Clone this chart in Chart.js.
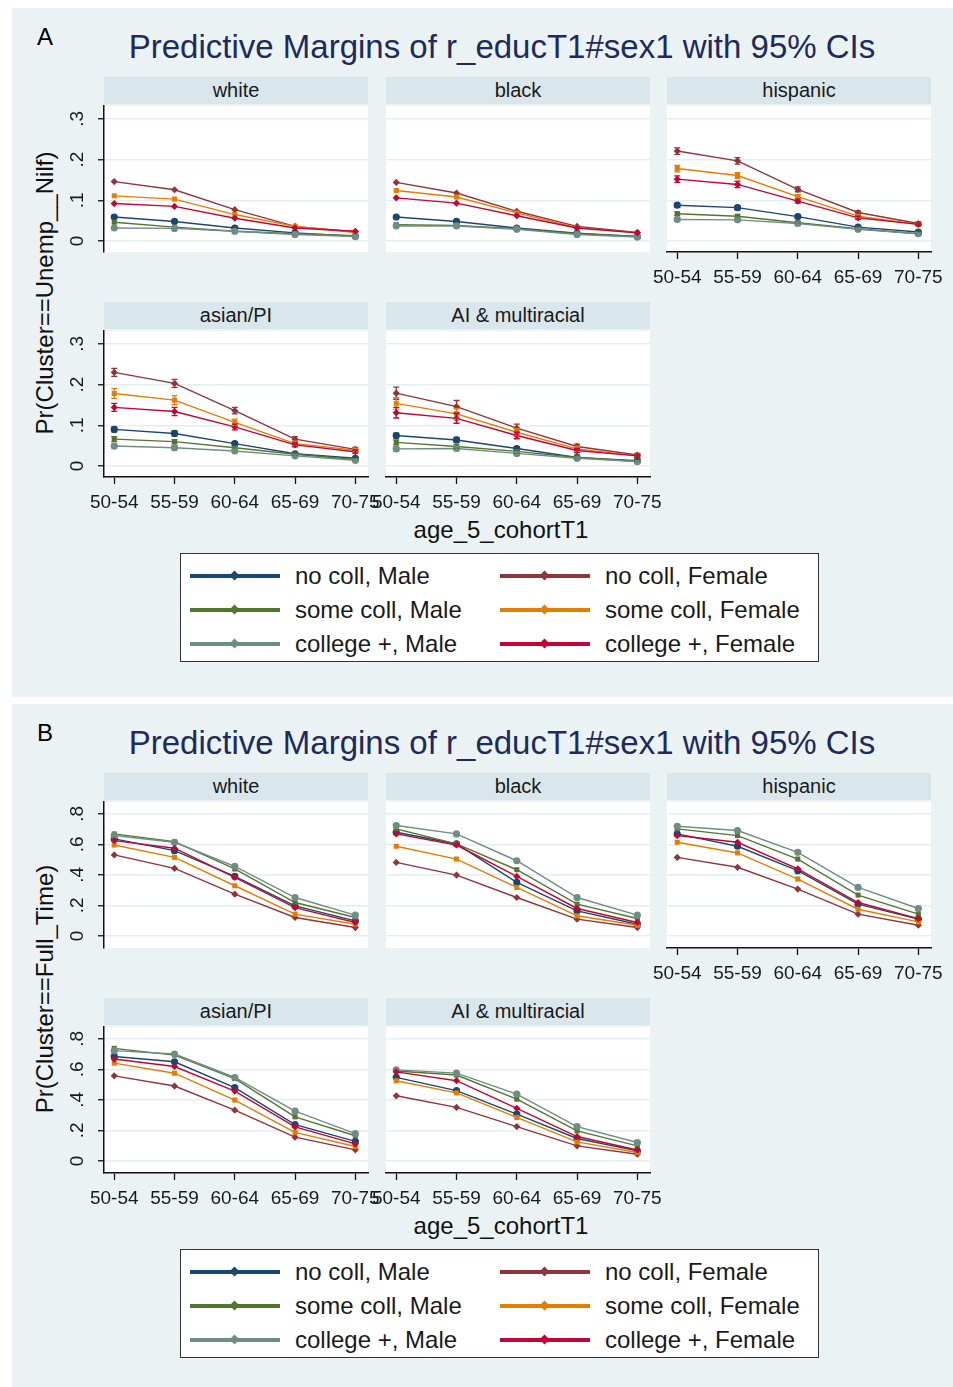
<!DOCTYPE html>
<html>
<head>
<meta charset="utf-8">
<script src="https://cdn.jsdelivr.net/npm/chart.js@4.4.1/dist/chart.umd.min.js"></script>
<style>
body { margin: 0; background: #fff; font-family: "Liberation Sans", Arial, sans-serif; }
#page { position: relative; width: 953px; height: 1387px; overflow: hidden; background: #fff; }
.bg { position: absolute; left: 12px; width: 941px; background: #eaf2f3; }
.strip { position: absolute; background: #d9e6eb; height: 27px; line-height: 27px; text-align: center; font-size: 20px; color: #1a1a1a; }
.plot { position: absolute; background: #fff; }
.txt { position: absolute; transform: translate(-50%, -50%); white-space: nowrap; color: #111; }
.legend { position: absolute; left: 180px; width: 637px; height: 107px; background: #fff; border: 1.5px solid #333; }
.li { position: absolute; height: 34px; }
.li .ln { position: absolute; left: 0; top: 15px; width: 90px; height: 4px; }
.li .mk { position: absolute; left: 41px; top: 13px; width: 7px; height: 7px; transform: rotate(45deg); }
.li .lt { position: absolute; left: 105px; top: 0; line-height: 34px; font-size: 24px; color: #1a1a1a; white-space: nowrap; }
canvas { position: absolute; }
</style>
</head>
<body>
<div id="page"></div>
<script>
const cohorts = ['50-54', '55-59', '60-64', '65-69', '70-75'];
const groups = ['no coll, Male', 'some coll, Male', 'college +, Male', 'no coll, Female', 'some coll, Female', 'college +, Female'];
const races = ['white', 'black', 'hispanic', 'asian/PI', 'AI & multiracial'];
const colors = ['#1a476f', '#55752f', '#6e8e84', '#90353b', '#e37e00', '#c10534'];

// A: Pr(Cluster==Unemp__Nilf), rows follow groups
const unempWhite = [
  [0.059, 0.048, 0.032, 0.020, 0.012],
  [0.046, 0.034, 0.024, 0.018, 0.013],
  [0.032, 0.031, 0.024, 0.016, 0.011],
  [0.146, 0.126, 0.077, 0.036, 0.022],
  [0.111, 0.103, 0.065, 0.036, 0.021],
  [0.092, 0.085, 0.056, 0.032, 0.024]
];
const unempBlack = [
  [0.059, 0.048, 0.032, 0.019, 0.011],
  [0.040, 0.038, 0.030, 0.018, 0.011],
  [0.037, 0.037, 0.029, 0.016, 0.010],
  [0.144, 0.118, 0.073, 0.036, 0.021],
  [0.124, 0.108, 0.069, 0.033, 0.020],
  [0.106, 0.093, 0.062, 0.032, 0.020]
];
const unempHisp = [
  [0.088, 0.082, 0.060, 0.034, 0.022],
  [0.067, 0.061, 0.045, 0.030, 0.018],
  [0.053, 0.052, 0.043, 0.029, 0.018],
  [0.221, 0.197, 0.127, 0.070, 0.043],
  [0.178, 0.161, 0.109, 0.061, 0.041],
  [0.152, 0.139, 0.098, 0.057, 0.041]
];
const unempAsian = [
  [0.090, 0.080, 0.055, 0.030, 0.019],
  [0.066, 0.060, 0.045, 0.029, 0.016],
  [0.049, 0.045, 0.037, 0.025, 0.014],
  [0.230, 0.203, 0.136, 0.066, 0.041],
  [0.178, 0.162, 0.107, 0.055, 0.039],
  [0.144, 0.134, 0.096, 0.052, 0.035]
];
const unempAI = [
  [0.075, 0.064, 0.043, 0.021, 0.013],
  [0.058, 0.048, 0.036, 0.021, 0.011],
  [0.042, 0.043, 0.031, 0.019, 0.011],
  [0.179, 0.146, 0.093, 0.048, 0.027],
  [0.154, 0.128, 0.083, 0.042, 0.025],
  [0.131, 0.117, 0.075, 0.038, 0.025]
];
// CI half widths (only where visible)
const ciUnempHisp = [
  [0.005, 0.005, 0.004, 0.003, 0.003],
  [0.004, 0.004, 0.003, 0.003, 0.002],
  [0.004, 0.004, 0.003, 0.002, 0.002],
  [0.008, 0.008, 0.006, 0.004, 0.004],
  [0.008, 0.007, 0.005, 0.004, 0.003],
  [0.008, 0.008, 0.005, 0.004, 0.003]
];
const ciUnempAsian = [
  [0.006, 0.006, 0.004, 0.003, 0.003],
  [0.006, 0.005, 0.004, 0.003, 0.002],
  [0.005, 0.005, 0.004, 0.003, 0.002],
  [0.010, 0.010, 0.008, 0.006, 0.005],
  [0.012, 0.011, 0.008, 0.006, 0.005],
  [0.010, 0.010, 0.007, 0.005, 0.004]
];
const ciUnempAI = [
  [0.006, 0.006, 0.004, 0.003, 0.003],
  [0.006, 0.005, 0.004, 0.003, 0.002],
  [0.005, 0.005, 0.004, 0.003, 0.002],
  [0.015, 0.015, 0.010, 0.006, 0.004],
  [0.014, 0.013, 0.009, 0.006, 0.004],
  [0.013, 0.012, 0.008, 0.005, 0.004]
];

// B: Pr(Cluster==Full_Time)
const fullWhite = [
  [0.636, 0.559, 0.390, 0.197, 0.099],
  [0.669, 0.618, 0.439, 0.219, 0.121],
  [0.658, 0.614, 0.456, 0.252, 0.136],
  [0.531, 0.443, 0.274, 0.121, 0.055],
  [0.596, 0.515, 0.329, 0.143, 0.077],
  [0.625, 0.575, 0.384, 0.186, 0.088]
];
const fullBlack = [
  [0.680, 0.603, 0.351, 0.164, 0.077],
  [0.702, 0.603, 0.434, 0.208, 0.114],
  [0.724, 0.669, 0.493, 0.252, 0.136],
  [0.482, 0.399, 0.252, 0.110, 0.055],
  [0.588, 0.504, 0.318, 0.132, 0.070],
  [0.669, 0.596, 0.390, 0.180, 0.088]
];
const fullHisp = [
  [0.669, 0.588, 0.428, 0.208, 0.110],
  [0.702, 0.658, 0.504, 0.268, 0.143],
  [0.719, 0.691, 0.548, 0.318, 0.180],
  [0.515, 0.450, 0.307, 0.143, 0.070],
  [0.614, 0.544, 0.373, 0.175, 0.092],
  [0.658, 0.614, 0.439, 0.219, 0.114]
];
const fullAsian = [
  [0.685, 0.650, 0.481, 0.238, 0.128],
  [0.738, 0.694, 0.540, 0.289, 0.165],
  [0.723, 0.701, 0.547, 0.326, 0.179],
  [0.558, 0.491, 0.333, 0.156, 0.073],
  [0.641, 0.575, 0.399, 0.187, 0.095],
  [0.668, 0.619, 0.458, 0.223, 0.112]
];
const fullAI = [
  [0.548, 0.461, 0.307, 0.147, 0.066],
  [0.590, 0.563, 0.405, 0.197, 0.099],
  [0.597, 0.576, 0.438, 0.225, 0.121],
  [0.427, 0.351, 0.225, 0.099, 0.044],
  [0.526, 0.446, 0.285, 0.125, 0.055],
  [0.584, 0.526, 0.345, 0.160, 0.072]
];

const yTicksA = [0, 0.1, 0.2, 0.3];
const yLabelsA = ['0', '.1', '.2', '.3'];
const yTicksB = [0, 0.2, 0.4, 0.6, 0.8];
const yLabelsB = ['0', '.2', '.4', '.6', '.8'];

const title = 'Predictive Margins of r_educT1#sex1 with 95% CIs';

const sections = [
  { tag: 'A', dy: 0, bgH: 689, yTitle: 'Pr(Cluster==Unemp__Nilf)',
    data: [unempWhite, unempBlack, unempHisp, unempAsian, unempAI],
    ci: [null, null, ciUnempHisp, ciUnempAsian, ciUnempAI],
    yMin: -0.027, yMax: 0.3317, yTicks: yTicksA, yLabels: yLabelsA },
  { tag: 'B', dy: 696, bgH: 684, yTitle: 'Pr(Cluster==Full_Time)',
    data: [fullWhite, fullBlack, fullHisp, fullAsian, fullAI],
    ci: [null, null, null, null, null],
    yMin: -0.079, yMax: 0.878, yTicks: yTicksB, yLabels: yLabelsB }
];

// draw order: college +, Female on top
const drawOrder = [5, 3, 1, 4, 2, 0];
const pointStyles = ['circle', 'rect', 'circle', 'rectRot', 'rect', 'rectRot'];

const colLeft = [104, 386, 667];
const plotW = 264;
const plotH = 146;
const stripTop = [77, 302];
const plotTop = [106, 331];
const cells = [
  { col: 0, row: 0, yAxis: true, xAxis: false },
  { col: 1, row: 0, yAxis: false, xAxis: false },
  { col: 2, row: 0, yAxis: false, xAxis: true },
  { col: 0, row: 1, yAxis: true, xAxis: true },
  { col: 1, row: 1, yAxis: false, xAxis: true }
];

const page = document.getElementById('page');
function el(cls, css, text) {
  const d = document.createElement('div');
  d.className = cls;
  Object.assign(d.style, css);
  if (text !== undefined) d.textContent = text;
  page.appendChild(d);
  return d;
}

function ciPlugin(ci) {
  return {
    id: 'cibars',
    afterDatasetsDraw(chart) {
      if (!ci) return;
      const ctx = chart.ctx;
      const xs = chart.scales.x, ys = chart.scales.y;
      chart.data.datasets.forEach((ds, i) => {
        const g = ds.groupIndex;
        ctx.save();
        ctx.strokeStyle = ds.borderColor;
        ctx.lineWidth = 1.3;
        ds.data.forEach((pt, j) => {
          const c = ci[g][j];
          const x = xs.getPixelForValue(pt.x);
          const y1 = ys.getPixelForValue(pt.y - c);
          const y2 = ys.getPixelForValue(pt.y + c);
          ctx.beginPath();
          ctx.moveTo(x, y1); ctx.lineTo(x, y2);
          ctx.moveTo(x - 3, y1); ctx.lineTo(x + 3, y1);
          ctx.moveTo(x - 3, y2); ctx.lineTo(x + 3, y2);
          ctx.stroke();
        });
        ctx.restore();
      });
    }
  };
}

function makeChart(sec, k) {
  const cell = cells[k];
  const padT = 30, padR = 30;
  const yW = cell.yAxis ? 40 : 0;
  const padL = cell.yAxis ? 0 : 30;
  const xH = cell.xAxis ? 46 : 0;
  const padB = cell.xAxis ? 0 : 30;
  const left = colLeft[cell.col] - yW - padL;
  const top = plotTop[cell.row] + sec.dy - padT;
  const w = padL + yW + plotW + padR;
  const h = padT + plotH + xH + padB;
  const cv = document.createElement('canvas');
  cv.width = w; cv.height = h;
  cv.style.left = left + 'px'; cv.style.top = top + 'px';
  cv.style.width = w + 'px'; cv.style.height = h + 'px';
  page.appendChild(cv);

  const series = sec.data[k];
  const datasets = series.map((vals, g) => ({
    label: groups[g],
    groupIndex: g,
    data: vals.map((v, j) => ({ x: j, y: v })),
    borderColor: colors[g],
    backgroundColor: colors[g],
    pointBackgroundColor: colors[g],
    pointBorderColor: colors[g],
    pointBorderWidth: 0,
    pointRadius: 3.6,
    pointStyle: pointStyles[g],
    borderWidth: 1.4,
    tension: 0,
    order: drawOrder[g],
    clip: false
  }));

  new Chart(cv, {
    type: 'line',
    data: { datasets },
    plugins: [ciPlugin(sec.ci[k])],
    options: {
      responsive: false,
      animation: false,
      events: [],
      layout: { padding: { left: padL, right: padR, top: padT, bottom: padB } },
      plugins: { legend: { display: false }, tooltip: { enabled: false } },
      scales: {
        x: {
          type: 'linear', min: -0.17, max: 4.21, display: cell.xAxis,
          afterBuildTicks: s => { s.ticks = cohorts.map((c, i) => ({ value: i })); },
          afterFit: s => { s.height = xH; },
          ticks: { autoSkip: false, maxRotation: 0, minRotation: 0, padding: 7,
                   color: '#1a1a1a', font: { family: 'Liberation Sans', size: 19 },
                   callback: (v, i) => cohorts[i] },
          grid: { drawOnChartArea: false, tickLength: 7, tickColor: '#111', tickWidth: 1.3 },
          border: { color: '#111', width: 1.5 }
        },
        y: {
          min: sec.yMin, max: sec.yMax,
          afterBuildTicks: s => { s.ticks = sec.yTicks.map(v => ({ value: v })); },
          afterFit: s => { s.width = yW; },
          ticks: { display: cell.yAxis, minRotation: 90, maxRotation: 90, crossAlign: 'center',
                   padding: 12, color: '#1a1a1a', font: { family: 'Liberation Sans', size: 19 },
                   callback: (v, i) => sec.yLabels[i] },
          grid: { color: '#e4eef1', lineWidth: 1.5, drawTicks: cell.yAxis, tickLength: 6,
                  tickColor: '#111', tickWidth: 1.3 },
          border: { display: cell.yAxis, color: '#111', width: 1.5 }
        }
      }
    }
  });
}

sections.forEach(sec => {
  const dy = sec.dy;
  el('bg', { top: (8 + dy) + 'px', height: sec.bgH + 'px' });
  el('txt', { left: '45px', top: (37 + dy) + 'px', fontSize: '24px', color: '#000' }, sec.tag);
  el('txt', { left: '502px', top: (47 + dy) + 'px', fontSize: '33px', color: '#1f2a5c' }, title);
  cells.forEach((cell, k) => {
    const x = colLeft[cell.col];
    el('strip', { left: x + 'px', top: (stripTop[cell.row] + dy) + 'px', width: plotW + 'px' }, races[k]);
    el('plot', { left: x + 'px', top: (plotTop[cell.row] + dy) + 'px', width: plotW + 'px', height: plotH + 'px' });
  });
  el('txt', { left: '45px', top: (293 + dy) + 'px', fontSize: '24px', transform: 'translate(-50%,-50%) rotate(-90deg)' }, sec.yTitle);
  el('txt', { left: '501px', top: (530 + dy) + 'px', fontSize: '24px' }, 'age_5_cohortT1');
  const lg = el('legend', { top: (553 + dy) + 'px' });
  const order = [0, 3, 1, 4, 2, 5];
  order.forEach((g, n) => {
    const colN = n % 2, rowN = Math.floor(n / 2);
    const item = document.createElement('div');
    item.className = 'li';
    item.style.left = (colN === 0 ? 9 : 319) + 'px';
    item.style.top = (5 + rowN * 34) + 'px';
    item.innerHTML = '<div class="ln" style="background:' + colors[g] + '"></div>' +
      '<div class="mk" style="background:' + colors[g] + '"></div>' +
      '<div class="lt">' + groups[g] + '</div>';
    lg.appendChild(item);
  });
  cells.forEach((cell, k) => makeChart(sec, k));
});
</script>
</body>
</html>
